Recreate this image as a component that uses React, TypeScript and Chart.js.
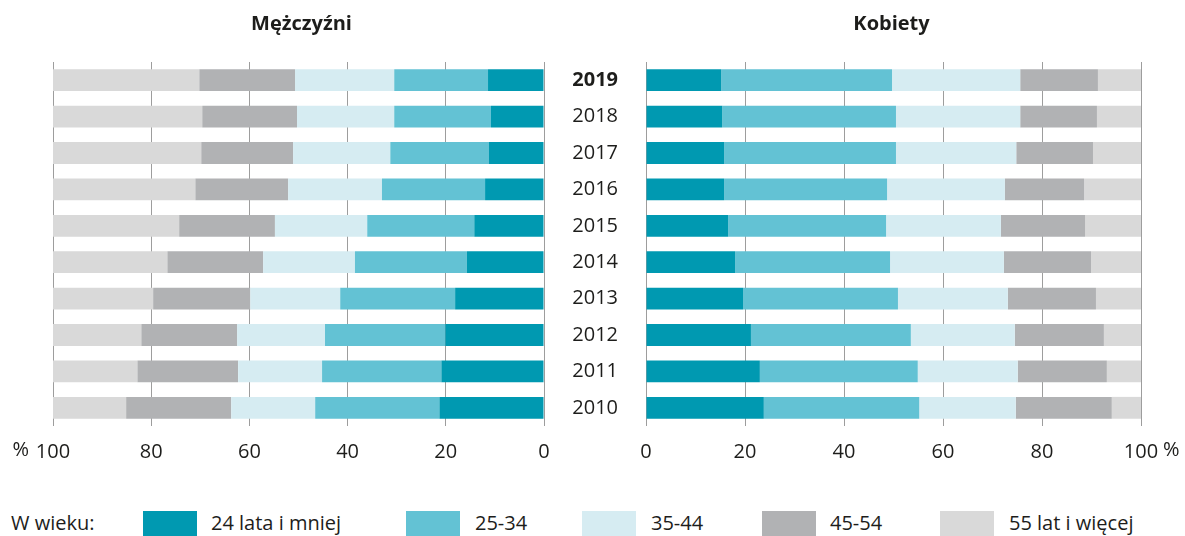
import React, { useEffect, useRef } from 'react';
import { Chart, registerables } from 'chart.js';

Chart.register(...registerables);

const years = ['2019', '2018', '2017', '2016', '2015', '2014', '2013', '2012', '2011', '2010'];
const ageGroups = ['24 lata i mniej', '25-34', '35-44', '45-54', '55 lat i więcej'];
const groupColors = ['#0099B1', '#63C2D4', '#D6ECF2', '#B1B2B4', '#D9D9D9'];
const xTicks = [0, 20, 40, 60, 80, 100];

const menUnder25 = [11.4, 10.8, 11.2, 12.0, 14.2, 15.7, 18.1, 20.1, 20.9, 21.3];
const men25to34 = [19.1, 19.7, 20.1, 21.0, 21.8, 22.8, 23.4, 24.5, 24.3, 25.3];
const men35to44 = [20.2, 19.8, 19.8, 19.1, 18.8, 18.7, 18.3, 17.9, 17.1, 17.1];
const men45to54 = [19.5, 19.3, 18.7, 18.9, 19.5, 19.5, 19.8, 19.5, 20.5, 21.4];
const men55plus = [29.8, 30.4, 30.2, 29.0, 25.7, 23.3, 20.4, 18.0, 17.2, 14.9];

const womenUnder25 = [15.2, 15.4, 15.8, 15.8, 16.6, 18.0, 19.6, 21.2, 23.0, 23.8];
const women25to34 = [34.5, 35.1, 34.7, 32.9, 31.9, 31.3, 31.3, 32.3, 31.9, 31.4];
const women35to44 = [25.9, 25.1, 24.3, 23.8, 23.2, 23.0, 22.2, 21.0, 20.2, 19.5];
const women45to54 = [15.7, 15.5, 15.5, 16.0, 17.0, 17.6, 17.8, 18.0, 18.0, 19.4];
const women55plus = [8.7, 8.9, 9.7, 11.5, 11.3, 10.1, 9.1, 7.5, 6.9, 5.9];

const menSeries = [menUnder25, men25to34, men35to44, men45to54, men55plus];
const womenSeries = [womenUnder25, women25to34, women35to44, women45to54, women55plus];

const FONT = '"Open Sans", "Noto Sans", sans-serif';
const TEXT = '#1d1d1b';

function makeDatasets(series: number[][]) {
  return series.map((data, i) => ({
    label: ageGroups[i],
    data,
    backgroundColor: groupColors[i],
    borderWidth: 0,
    barPercentage: 0.6,
    categoryPercentage: 1,
  }));
}

const overlayPlugin = {
  id: 'overlay',
  afterDraw(chart: any, _args: any, opts: any) {
    const { ctx, chartArea, scales } = chart;
    ctx.save();
    ctx.fillStyle = TEXT;
    ctx.font = `bold 20px ${FONT}`;
    ctx.textAlign = 'center';
    ctx.textBaseline = 'middle';
    ctx.fillText(opts.title, (chartArea.left + chartArea.right) / 2 + (opts.titleDx || 0), 24);
    ctx.font = `20px ${FONT}`;
    const x100 = scales.x.getPixelForValue(100);
    const y = chartArea.bottom + 24;
    if (opts.side === 'left') {
      ctx.textAlign = 'right';
      ctx.fillText('%', x100 - 24, y);
    } else {
      ctx.textAlign = 'left';
      ctx.fillText('%', x100 + 22, y);
    }
    ctx.restore();
  },
};

function HalfChart({ side }: { side: 'left' | 'right' }) {
  const ref = useRef<HTMLCanvasElement | null>(null);
  useEffect(() => {
    if (!ref.current) return;
    const isLeft = side === 'left';
    const chart = new Chart(ref.current, {
      type: 'bar',
      data: {
        labels: years,
        datasets: makeDatasets(isLeft ? menSeries : womenSeries) as any,
      },
      plugins: [overlayPlugin],
      options: {
        indexAxis: 'y',
        animation: false,
        responsive: false,
        maintainAspectRatio: false,
        layout: {
          padding: isLeft
            ? { left: 53, right: 16, top: 62, bottom: 0 }
            : { left: 0, right: 44, top: 62, bottom: 0 },
        },
        plugins: {
          legend: { display: false },
          tooltip: { enabled: false },
          title: { display: false },
          overlay: { title: isLeft ? 'Mężczyźni' : 'Kobiety', side, titleDx: isLeft ? 3 : -2 },
        } as any,
        scales: {
          x: {
            type: 'linear',
            stacked: true,
            min: 0,
            max: 100,
            reverse: isLeft,
            afterBuildTicks: (scale: any) => {
              scale.ticks = xTicks.map((v) => ({ value: v }));
            },
            afterFit: (scale: any) => {
              scale.height = 40;
            },
            grid: { color: '#9d9d9d', lineWidth: 1, drawTicks: false },
            border: { display: false },
            ticks: {
              padding: 14,
              color: TEXT,
              font: { family: FONT, size: 20 },
              maxRotation: 0,
              callback: (v: any) => String(v),
            },
          },
          y: {
            type: 'category',
            stacked: true,
            display: !isLeft,
            afterFit: (scale: any) => {
              scale.width = isLeft ? 0 : 86;
            },
            grid: { display: false, drawTicks: false },
            border: { display: false },
            ticks: {
              padding: 28,
              color: TEXT,
              font: (c: any) => ({
                family: FONT,
                size: 20,
                weight: c.index === 0 ? 'bold' : 'normal',
              }),
            },
          },
        },
      } as any,
    });
    return () => chart.destroy();
  }, [side]);
  return <canvas ref={ref} width={side === 'left' ? 560 : 625} height={466} style={{ display: 'block', width: side === 'left' ? 560 : 625, height: 466 }} />;
}

const legendBoxX = [143, 406, 582, 762, 940];
const legendTextX = [211, 475, 651, 830, 1009];

export default function App() {
  return (
    <div
      style={{
        position: 'fixed',
        left: 0,
        top: 0,
        width: 1185,
        height: 536,
        background: '#fff',
        fontFamily: FONT,
        color: TEXT,
        overflow: 'hidden',
      }}
    >
      <div style={{ position: 'absolute', left: 0, top: 0 }}>
        <HalfChart side="left" />
      </div>
      <div style={{ position: 'absolute', left: 560, top: 0 }}>
        <HalfChart side="right" />
      </div>
      <div style={{ position: 'absolute', left: 11, top: 509, fontSize: 20, lineHeight: '28px' }}>W wieku:</div>
      {ageGroups.map((g, i) => (
        <React.Fragment key={g}>
          <div
            style={{
              position: 'absolute',
              left: legendBoxX[i],
              top: 511,
              width: 54,
              height: 25,
              background: groupColors[i],
            }}
          />
          <div style={{ position: 'absolute', left: legendTextX[i], top: 509, fontSize: 20, lineHeight: '28px', whiteSpace: 'nowrap' }}>
            {g}
          </div>
        </React.Fragment>
      ))}
    </div>
  );
}
